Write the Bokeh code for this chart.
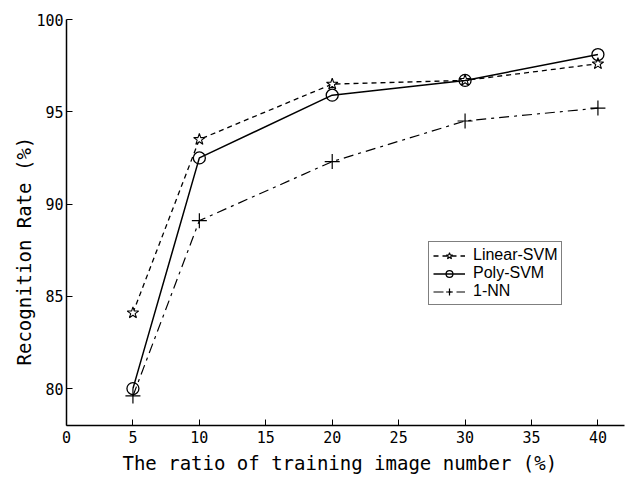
from bokeh.plotting import figure
from bokeh.models import Legend, LegendItem, Range1d, FixedTicker
from bokeh.embed import file_html
from bokeh.resources import INLINE

ratios = [5, 10, 20, 30, 40]
linear_svm = [84.1, 93.5, 96.5, 96.7, 97.6]
poly_svm = [80.0, 92.5, 95.9, 96.7, 98.1]
nn1 = [79.6, 89.1, 92.3, 94.5, 95.2]
x_ticks = [0, 5, 10, 15, 20, 25, 30, 35, 40]
y_ticks = [80, 85, 90, 95, 100]

MONO = "DejaVu Sans Mono"

p = figure(width=632, height=479, output_backend="svg", toolbar_location=None,
           x_range=Range1d(0, 42), y_range=Range1d(78, 100),
           min_border_left=66, min_border_right=8, min_border_top=19, min_border_bottom=54)
p.outline_line_color = None
p.xgrid.grid_line_color = None
p.ygrid.grid_line_color = None
p.background_fill_color = "white"

for ax in (p.xaxis[0], p.yaxis[0]):
    ax.axis_line_color = "black"
    ax.axis_line_width = 1.5
    ax.major_tick_in = 6
    ax.major_tick_out = 0
    ax.minor_tick_in = 0
    ax.minor_tick_out = 0
    ax.major_tick_line_color = "black"
    ax.major_label_text_font = MONO
    ax.major_label_text_font_size = "15px"
    ax.major_label_text_color = "black"
    ax.axis_label_text_font = MONO
    ax.axis_label_text_font_style = "normal"
    ax.axis_label_text_color = "black"

p.xaxis.ticker = FixedTicker(ticks=x_ticks)
p.yaxis.ticker = FixedTicker(ticks=y_ticks)
p.xaxis.axis_label = "The ratio of training image number  (%)"
p.yaxis.axis_label = "Recognition Rate  (%)" + "\u00a0" * 4
p.xaxis.axis_label_text_font_size = "19px"
p.yaxis.axis_label_text_font_size = "19px"
p.xaxis.major_label_standoff = 5
p.yaxis.major_label_standoff = 3
p.xaxis.axis_label_standoff = 6
p.yaxis.axis_label_standoff = -2

l1 = p.line(ratios, linear_svm, line_color="black", line_width=1.3, line_dash="5 4")
s1 = p.scatter(ratios, linear_svm, marker="star", size=12, line_color="black",
               fill_color="white", line_width=1.1)
l2 = p.line(ratios, poly_svm, line_color="black", line_width=1.5)
s2 = p.scatter(ratios, poly_svm, marker="circle", size=12, line_color="black",
               fill_alpha=0, line_width=1.3)
l3 = p.line(ratios, nn1, line_color="black", line_width=1.2, line_dash="10 5 3 5")
s3 = p.scatter(ratios, nn1, marker="cross", size=15, line_color="black", line_width=1.2)

legend = Legend(items=[
    LegendItem(label="Linear-SVM", renderers=[l1, s1]),
    LegendItem(label="Poly-SVM", renderers=[l2, s2]),
    LegendItem(label="1-NN", renderers=[l3, s3]),
], location=(362, 120))
legend.label_text_font = "Liberation Sans"
legend.label_text_font_size = "16px"
legend.label_text_color = "black"
legend.glyph_width = 32
legend.glyph_height = 17
legend.label_height = 17
legend.label_standoff = 8
legend.spacing = 0
legend.padding = 4
legend.margin = 0
legend.border_line_color = "black"
legend.border_line_width = 1
legend.background_fill_color = "white"
legend.background_fill_alpha = 1
p.add_layout(legend, "center")

open("out.html", "w").write(file_html(p, INLINE))
